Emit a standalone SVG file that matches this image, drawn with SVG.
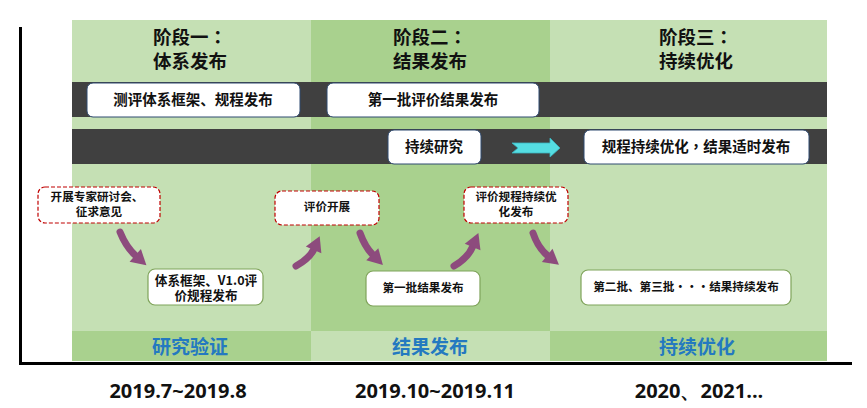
<svg xmlns="http://www.w3.org/2000/svg" width="867" height="408" viewBox="0 0 867 408">
<defs>
<style>
text{font-family:"Noto Sans CJK SC","Noto Sans",sans-serif;font-weight:bold;fill:#111;text-anchor:middle}
.tc{font-family:"Noto Sans CJK TC","Noto Sans CJK SC",sans-serif}
.title{font-size:18.5px}
.band{fill:#404040}
.bbox{fill:#fff;stroke:#2F4A70;stroke-width:1}
.btxt{font-size:14.5px}
.dbox{fill:#fff;stroke:#C00000;stroke-width:1.2;stroke-dasharray:4 2}
.sbox{fill:#fff;stroke:#7FA35A;stroke-width:1.2}
.small{font-size:11.6px}
.mid{font-size:12.6px}
.lbl{font-size:19px;fill:#2479C0}
.date{font-family:"Open Sans","Liberation Sans",sans-serif;font-size:20px;fill:#111}
.arr{fill:none;stroke:#8D4B7D;stroke-width:7;stroke-linecap:round}
</style>
<marker id="ah" markerUnits="userSpaceOnUse" markerWidth="20" markerHeight="20" viewBox="0 -10 16 20" refX="1" refY="0" orient="auto">
<path d="M0,-8.5 L15,0 L0,8.5 z" fill="#8D4B7D"/>
</marker>
</defs>
<rect width="867" height="408" fill="#fff"/>
<g id="background">
<rect x="72" y="20" width="239" height="311" fill="#C5E0B4"/>
<rect x="311" y="20" width="239" height="311" fill="#A9D18E"/>
<rect x="550" y="20" width="277" height="311" fill="#C5E0B4"/>
<rect x="72" y="331" width="239" height="30" fill="#A9D18E"/>
<rect x="311" y="331" width="239" height="30" fill="#C5E0B4"/>
<rect x="550" y="331" width="277" height="30" fill="#A9D18E"/>
<rect class="band" x="72" y="82" width="755" height="35"/>
<rect class="band" x="72" y="129" width="755" height="35"/>
</g>
<g id="axes">
<rect x="19" y="27" width="3" height="337" fill="#000"/>
<rect x="19" y="362" width="833" height="3" fill="#000"/>
</g>
<g id="titles">
<text class="title" x="190" y="44">阶段一<tspan class="tc">：</tspan></text>
<text class="title" x="190" y="68">体系发布</text>
<text class="title" x="430" y="44">阶段二<tspan class="tc">：</tspan></text>
<text class="title" x="430" y="68">结果发布</text>
<text class="title" x="696" y="44">阶段三<tspan class="tc">：</tspan></text>
<text class="title" x="696" y="68">持续优化</text>
</g>
<g id="node-tixi-kuangjia">
<rect class="bbox" x="87" y="83" width="213" height="34" rx="6"/>
<text class="btxt" x="193" y="105">测评体系框架、规程发布</text>
</g>
<g id="node-diyipi-pingjia">
<rect class="bbox" x="327" y="83" width="212" height="34" rx="6"/>
<text class="btxt" x="433" y="105">第一批评价结果发布</text>
</g>
<g id="node-chixu-yanjiu">
<rect class="bbox" x="388" y="130" width="93" height="34" rx="6"/>
<text class="btxt" x="434" y="152">持续研究</text>
</g>
<g id="node-guicheng-youhua">
<rect class="bbox" x="584" y="130" width="225" height="34" rx="6"/>
<text class="btxt" x="696" y="152">规程持续优化<tspan class="tc">，</tspan>结果适时发布</text>
</g>
<g id="node-zhuanjia">
<rect class="dbox" x="38" y="187" width="122" height="36" rx="7"/>
<text class="small" x="97" y="201">开展专家研讨会、</text>
<text class="small" x="99" y="216">征求意见</text>
</g>
<g id="node-pingjia-kaizhan">
<rect class="dbox" x="275" y="191" width="104" height="34" rx="7"/>
<text class="small" x="327" y="211">评价开展</text>
</g>
<g id="node-guicheng-chixu">
<rect class="dbox" x="464" y="187" width="104" height="36" rx="7"/>
<text class="small" x="516" y="201">评价规程持续优</text>
<text class="small" x="516" y="216">化发布</text>
</g>
<g id="node-v10">
<rect class="sbox" x="148" y="269" width="115" height="36" rx="7"/>
<text class="mid" x="206" y="285"><tspan x="206" y="285">体系框架、V1.0评</tspan><tspan x="206" y="299.5">价规程发布</tspan></text>
</g>
<g id="node-diyipi-jieguo">
<rect class="sbox" x="366" y="271" width="114" height="35" rx="7"/>
<text class="small" x="423" y="292">第一批结果发布</text>
</g>
<g id="node-dierpi">
<rect class="sbox" x="581" y="270" width="210" height="35" rx="7"/>
<text class="small" x="686" y="291">第二批、第三批···结果持续发布</text>
</g>
<g id="connectors">
<path class="arr" d="M120,232 Q126,247 136,256" marker-end="url(#ah)"/>
<path class="arr" d="M296,266 Q310,258 314,249" marker-end="url(#ah)"/>
<path class="arr" d="M360,233 Q365,247 373,255" marker-end="url(#ah)"/>
<path class="arr" d="M454,266 Q468,258 473,246" marker-end="url(#ah)"/>
<path class="arr" d="M533,233 Q538,248 548,256" marker-end="url(#ah)"/>
<path d="M512,143 L550,143 L550,138 L560,148 L550,157 L550,153 L512,153 L518,148 z" fill="#55DDE2" stroke="#3AB5C0" stroke-width="0.8"/>
</g>
<g id="labels">
<text class="lbl" x="190" y="354">研究验证</text>
<text class="lbl" x="430" y="354">结果发布</text>
<text class="lbl" x="697" y="354">持续优化</text>
</g>
<g id="dates">
<text class="date" x="178" y="398">2019.7~2019.8</text>
<text class="date" x="435" y="398">2019.10~2019.11</text>
<text class="date" x="699" y="398">2020、2021...</text>
</g>
</svg>
